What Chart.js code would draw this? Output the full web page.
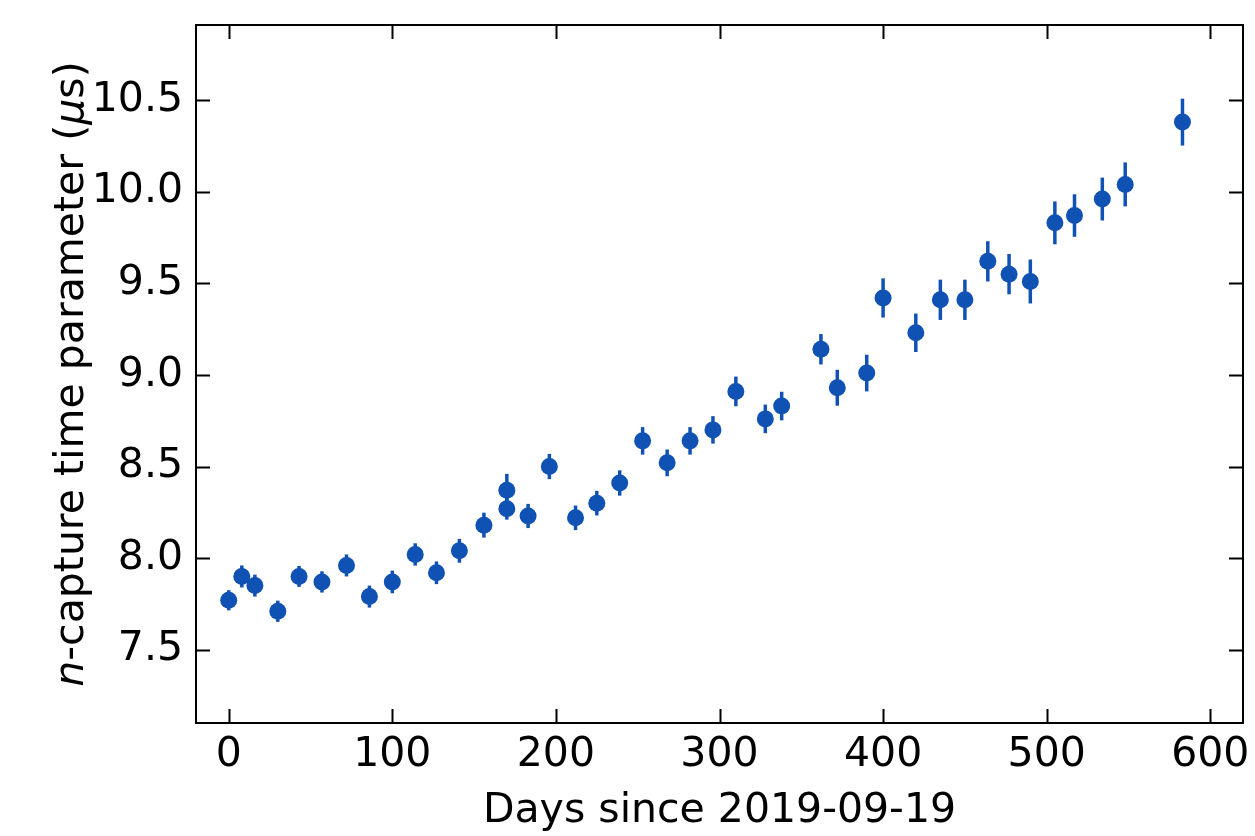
<!DOCTYPE html>
<html>
<head>
<meta charset="utf-8">
<script src="https://cdn.jsdelivr.net/npm/chart.js@4"></script>
<style>
  html, body { margin: 0; padding: 0; background: #fff; }
  #wrap { width: 1255px; height: 836px; }
</style>
</head>
<body>
<div id="wrap"><canvas id="grafico" width="1255" height="836"></canvas></div>
<script>
// data
const days = [0, 8, 16, 30, 43, 57, 72, 86, 100, 114, 127, 141, 156, 170, 170, 183, 196, 212, 225, 239,
  253, 268, 282, 296, 310, 328, 338, 362, 372, 390, 400, 420, 435, 450, 464, 477, 490, 505, 517, 534, 548, 583];
const tauValues = [7.77, 7.90, 7.85, 7.71, 7.90, 7.87, 7.96, 7.79, 7.87, 8.02, 7.92, 8.04, 8.18, 8.27, 8.37, 8.23, 8.50, 8.22, 8.30, 8.41,
  8.64, 8.52, 8.64, 8.70, 8.91, 8.76, 8.83, 9.14, 8.93, 9.01, 9.42, 9.23, 9.41, 9.41, 9.62, 9.55, 9.51, 9.83, 9.87, 9.96, 10.04, 10.38];
const tauErrors = [0.055, 0.06, 0.06, 0.058, 0.057, 0.058, 0.06, 0.06, 0.062, 0.061, 0.062, 0.065, 0.068, 0.06, 0.09, 0.066, 0.069, 0.067, 0.067, 0.069,
  0.075, 0.073, 0.075, 0.075, 0.081, 0.078, 0.078, 0.083, 0.098, 0.10, 0.107, 0.105, 0.11, 0.11, 0.11, 0.11, 0.12, 0.117, 0.116, 0.117, 0.12, 0.128];
const xTicks = [0, 100, 200, 300, 400, 500, 600];
const yTicks = [7.5, 8.0, 8.5, 9.0, 9.5, 10.0, 10.5];

const BLUE = '#1052b4';
const FONT = 'DejaVu Sans';

const points = days.map((d, i) => ({x: d, y: tauValues[i], err: tauErrors[i]}));

// error bars, drawn through the chart scales
const errorBars = {
  id: 'errorBars',
  beforeDatasetsDraw(chart) {
    const {ctx, chartArea, scales: {x, y}} = chart;
    ctx.save();
    ctx.beginPath();
    ctx.rect(chartArea.left, chartArea.top, chartArea.right - chartArea.left, chartArea.bottom - chartArea.top);
    ctx.clip();
    ctx.strokeStyle = BLUE;
    ctx.lineWidth = 3.5;
    chart.data.datasets[0].data.forEach(p => {
      const px = x.getPixelForValue(p.x);
      ctx.beginPath();
      ctx.moveTo(px, y.getPixelForValue(p.y - p.err));
      ctx.lineTo(px, y.getPixelForValue(p.y + p.err));
      ctx.stroke();
    });
    ctx.restore();
  }
};

// box + inward ticks on all four sides, plus the y title with italic n and mu
const frameTicks = {
  id: 'frameTicks',
  afterDraw(chart) {
    const {ctx, chartArea: a, scales: {x, y}} = chart;
    const len = 14;
    ctx.save();
    ctx.strokeStyle = '#000';
    ctx.lineWidth = 2;
    ctx.strokeRect(a.left, a.top, a.right - a.left, a.bottom - a.top);
    ctx.beginPath();
    xTicks.forEach(v => {
      const px = Math.round(x.getPixelForValue(v)) + 0.5;
      ctx.moveTo(px, a.bottom); ctx.lineTo(px, a.bottom - len);
      ctx.moveTo(px, a.top); ctx.lineTo(px, a.top + len);
    });
    yTicks.forEach(v => {
      const py = Math.round(y.getPixelForValue(v)) + 0.5;
      ctx.moveTo(a.left, py); ctx.lineTo(a.left + len, py);
      ctx.moveTo(a.right, py); ctx.lineTo(a.right - len, py);
    });
    ctx.stroke();

    const parts = [
      ['italic', 'n'], ['normal', '-capture time parameter ('], ['italic', 'μ'], ['normal', 's)']
    ];
    ctx.fillStyle = '#000';
    let total = 0;
    parts.forEach(p => { ctx.font = p[0] + ' 41px "' + FONT + '"'; total += ctx.measureText(p[1]).width; });
    ctx.translate(83, (a.top + a.bottom) / 2);
    ctx.rotate(-Math.PI / 2);
    ctx.textBaseline = 'alphabetic';
    let cx = -total / 2;
    parts.forEach(p => {
      ctx.font = p[0] + ' 41px "' + FONT + '"';
      ctx.fillText(p[1], cx, 0);
      cx += ctx.measureText(p[1]).width;
    });
    ctx.restore();
  }
};

const config = {
  type: 'scatter',
  data: {
    datasets: [{
      label: 'n-capture time',
      data: points,
      backgroundColor: BLUE,
      borderWidth: 0,
      pointRadius: 8.5,
      pointHoverRadius: 8.5
    }]
  },
  options: {
    responsive: false,
    animation: false,
    devicePixelRatio: 1,
    layout: { padding: { top: 25, right: 12, left: 0, bottom: 0 } },
    plugins: { legend: { display: false }, tooltip: { enabled: false } },
    scales: {
      x: {
        type: 'linear',
        min: -20,
        max: 620,
        afterBuildTicks: s => { s.ticks = xTicks.map(v => ({value: v})); },
        afterFit: s => { s.height = 113; s.paddingLeft = 0; s.paddingRight = 0; },
        grid: { display: false, drawTicks: false },
        border: { display: false },
        ticks: { color: '#000', padding: 8, font: { family: FONT, size: 41 }, maxRotation: 0 },
        title: {
          display: true,
          text: 'Days since 2019-09-19',
          color: '#000',
          font: { family: FONT, size: 41 },
          padding: { top: 0, bottom: 0 }
        }
      },
      y: {
        type: 'linear',
        min: 7.1,
        max: 10.91,
        afterBuildTicks: s => { s.ticks = yTicks.map(v => ({value: v})); },
        afterFit: s => { s.width = 196; s.paddingTop = 0; s.paddingBottom = 0; },
        grid: { display: false, drawTicks: false },
        border: { display: false },
        ticks: { color: '#000', padding: 13, font: { family: FONT, size: 41 }, callback: v => v.toFixed(1) }
      }
    }
  },
  plugins: [errorBars, frameTicks]
};

var meuGrafico = new Chart(document.getElementById('grafico'), config);
</script>
</body>
</html>
